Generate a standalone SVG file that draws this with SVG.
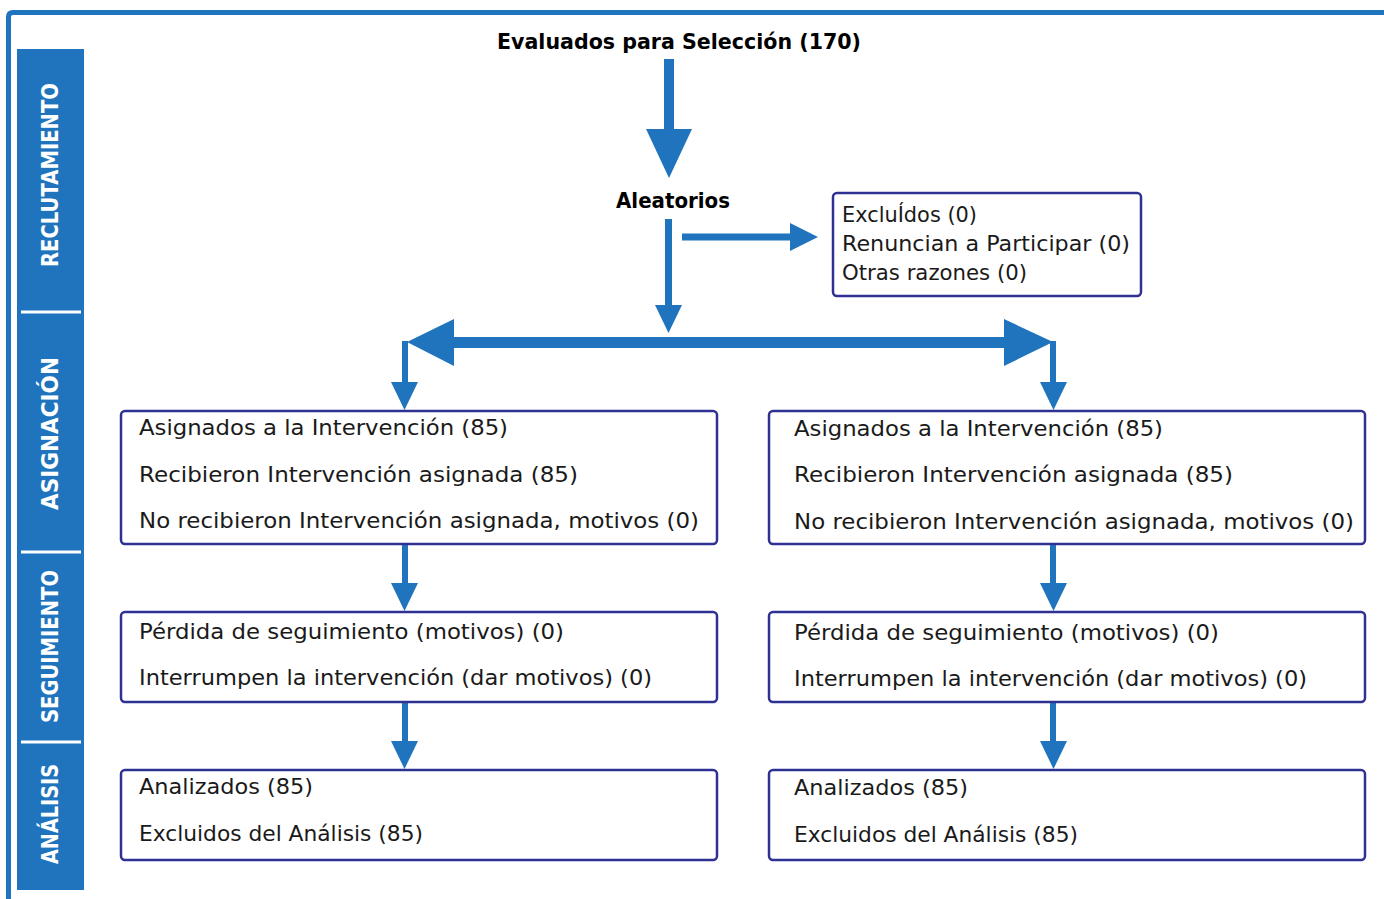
<svg xmlns="http://www.w3.org/2000/svg" width="1384" height="899" viewBox="0 0 1384 899">
<style>
.bg{fill:#ffffff}
.frame{fill:none;stroke:#1f74bd;stroke-width:5}
.side{fill:#1f74bd}
.sep{stroke:#ffffff;stroke-width:3}
.stage{fill:#ffffff;font-family:"DejaVu Sans","Liberation Sans",sans-serif;font-weight:bold;font-size:23px;text-anchor:middle}
.box{fill:#ffffff;stroke:#2e3192;stroke-width:2.5}
.t{fill:#1a1a1a;font-family:"DejaVu Sans","Liberation Sans",sans-serif;font-size:22px}
.tb{fill:#000000;font-family:"DejaVu Sans","Liberation Sans",sans-serif;font-size:22px;font-weight:bold}
.arr{fill:#1f74bd}
</style>
<rect class="bg" x="0" y="0" width="1384" height="899"/>
<path class="frame" d="M8.5 899 L8.5 17 Q8.5 12.5 13 12.5 L1384 12.5"/>
<g id="sidebar">
<rect class="side" x="17" y="49" width="67" height="841"/>
<line class="sep" x1="21" y1="312" x2="81" y2="312"/>
<line class="sep" x1="21" y1="552" x2="81" y2="552"/>
<line class="sep" x1="21" y1="742" x2="81" y2="742"/>
<text class="stage" transform="translate(58,175) rotate(-90)" textLength="184" lengthAdjust="spacingAndGlyphs">RECLUTAMIENTO</text>
<text class="stage" transform="translate(58,433.5) rotate(-90)" textLength="153" lengthAdjust="spacingAndGlyphs">ASIGNACIÓN</text>
<text class="stage" transform="translate(58,646.5) rotate(-90)" textLength="153" lengthAdjust="spacingAndGlyphs">SEGUIMIENTO</text>
<text class="stage" transform="translate(58,814) rotate(-90)" textLength="100" lengthAdjust="spacingAndGlyphs">ANÁLISIS</text>
</g>
<g id="connectors">
<rect class="arr" x="664" y="59" width="10" height="72"/>
<polygon class="arr" points="646,129 692,129 669,178"/>
<rect class="arr" x="665" y="219" width="7" height="88"/>
<polygon class="arr" points="655,305 682,305 668.5,333"/>
<rect class="arr" x="682" y="233.5" width="110" height="7"/>
<polygon class="arr" points="790,223 790,251 818,237"/>
<rect class="arr" x="451" y="337" width="555" height="11"/>
<polygon class="arr" points="454,319 454,366 407,342"/>
<polygon class="arr" points="1004,319 1004,366 1053,342"/>
<rect class="arr" x="402" y="341" width="6" height="43"/>
<polygon class="arr" points="391,382 418,382 404.5,410"/>
<rect class="arr" x="1050" y="341" width="6" height="43"/>
<polygon class="arr" points="1040,382 1067,382 1053.5,410"/>
<rect class="arr" x="402" y="544" width="6" height="41"/>
<polygon class="arr" points="391,583 418,583 404.5,611"/>
<rect class="arr" x="1050" y="544" width="6" height="41"/>
<polygon class="arr" points="1040,583 1067,583 1053.5,611"/>
<rect class="arr" x="402" y="702" width="6" height="41"/>
<polygon class="arr" points="391,741 418,741 404.5,769"/>
<rect class="arr" x="1050" y="702" width="6" height="41"/>
<polygon class="arr" points="1040,741 1067,741 1053.5,769"/>
</g>
<g id="title">
<text class="tb" x="497" y="49" textLength="364" lengthAdjust="spacingAndGlyphs">Evaluados para Selección (170)</text>
</g>
<g id="aleatorios">
<text class="tb" x="616" y="208" textLength="114" lengthAdjust="spacingAndGlyphs">Aleatorios</text>
</g>
<g id="excluidos">
<rect class="box" x="833" y="193" width="308" height="103" rx="4"/>
<text class="t" x="842" y="222" textLength="135" lengthAdjust="spacingAndGlyphs">ExcluÍdos (0)</text>
<text class="t" x="842" y="251" textLength="288" lengthAdjust="spacingAndGlyphs">Renuncian a Participar (0)</text>
<text class="t" x="842" y="280" textLength="185" lengthAdjust="spacingAndGlyphs">Otras razones (0)</text>
</g>
<g id="asignacion-izq">
<rect class="box" x="121" y="411" width="596" height="133" rx="4"/>
<text class="t" x="139" y="435" textLength="369" lengthAdjust="spacingAndGlyphs">Asignados a la Intervención (85)</text>
<text class="t" x="139" y="482" textLength="439" lengthAdjust="spacingAndGlyphs">Recibieron Intervención asignada (85)</text>
<text class="t" x="139" y="528" textLength="560" lengthAdjust="spacingAndGlyphs">No recibieron Intervención asignada, motivos (0)</text>
</g>
<g id="asignacion-der">
<rect class="box" x="769" y="411" width="596" height="133" rx="4"/>
<text class="t" x="794" y="436" textLength="369" lengthAdjust="spacingAndGlyphs">Asignados a la Intervención (85)</text>
<text class="t" x="794" y="482" textLength="439" lengthAdjust="spacingAndGlyphs">Recibieron Intervención asignada (85)</text>
<text class="t" x="794" y="529" textLength="560" lengthAdjust="spacingAndGlyphs">No recibieron Intervención asignada, motivos (0)</text>
</g>
<g id="seguimiento-izq">
<rect class="box" x="121" y="612" width="596" height="90" rx="4"/>
<text class="t" x="139" y="639" textLength="425" lengthAdjust="spacingAndGlyphs">Pérdida de seguimiento (motivos) (0)</text>
<text class="t" x="139" y="685" textLength="513" lengthAdjust="spacingAndGlyphs">Interrumpen la intervención (dar motivos) (0)</text>
</g>
<g id="seguimiento-der">
<rect class="box" x="769" y="612" width="596" height="90" rx="4"/>
<text class="t" x="794" y="640" textLength="425" lengthAdjust="spacingAndGlyphs">Pérdida de seguimiento (motivos) (0)</text>
<text class="t" x="794" y="686" textLength="513" lengthAdjust="spacingAndGlyphs">Interrumpen la intervención (dar motivos) (0)</text>
</g>
<g id="analisis-izq">
<rect class="box" x="121" y="770" width="596" height="90" rx="4"/>
<text class="t" x="139" y="794" textLength="174" lengthAdjust="spacingAndGlyphs">Analizados (85)</text>
<text class="t" x="139" y="841" textLength="284" lengthAdjust="spacingAndGlyphs">Excluidos del Análisis (85)</text>
</g>
<g id="analisis-der">
<rect class="box" x="769" y="770" width="596" height="90" rx="4"/>
<text class="t" x="794" y="795" textLength="174" lengthAdjust="spacingAndGlyphs">Analizados (85)</text>
<text class="t" x="794" y="842" textLength="284" lengthAdjust="spacingAndGlyphs">Excluidos del Análisis (85)</text>
</g>
</svg>
